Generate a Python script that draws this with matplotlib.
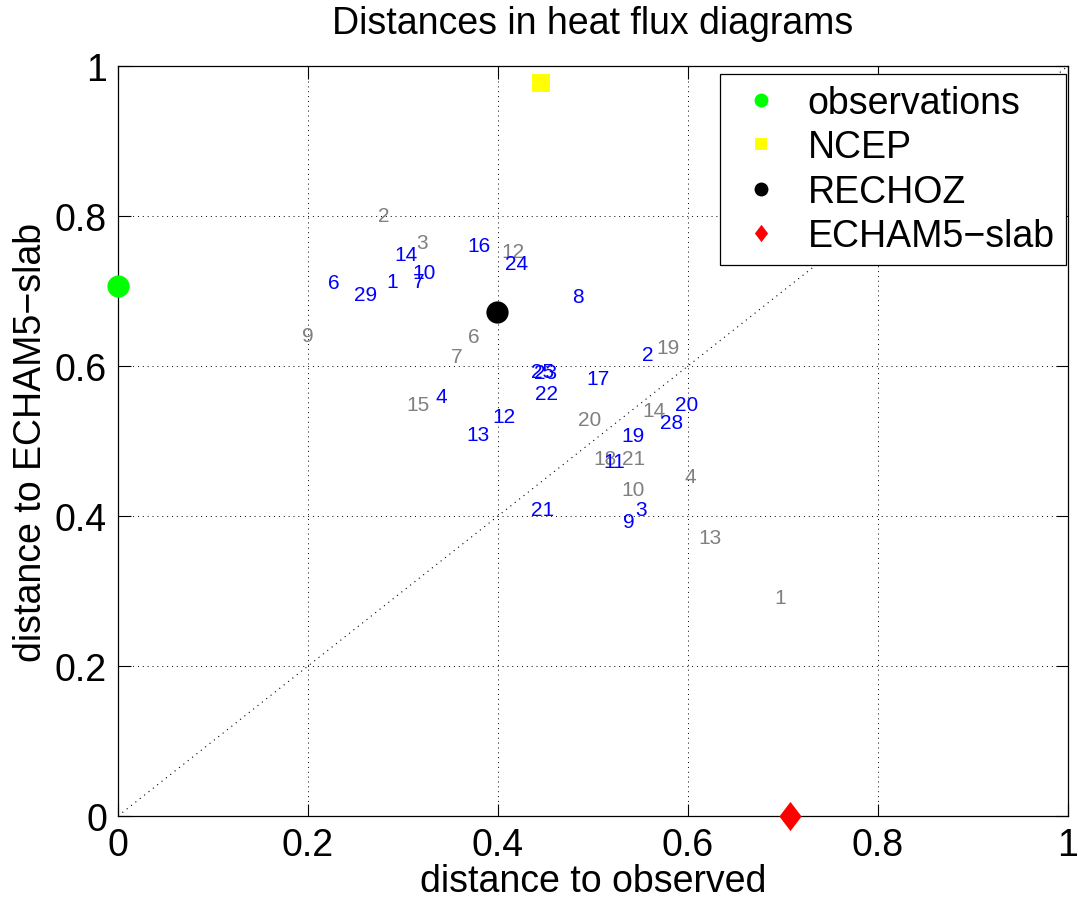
import matplotlib
matplotlib.use("Agg")
import matplotlib.pyplot as plt
from matplotlib.lines import Line2D
from matplotlib.path import Path

plt.rcParams['font.family'] = ['Liberation Sans', 'DejaVu Sans']

# Gray labelled points (label, x, y)
gray_labels = ["2", "3", "12", "9", "6", "7", "15", "19", "14", "20", "18", "21", "10", "4", "13", "1"]
gray_x = [0.280, 0.320, 0.416, 0.200, 0.375, 0.356, 0.316, 0.579, 0.564, 0.496, 0.513, 0.543, 0.542, 0.602, 0.623, 0.697]
gray_y = [0.801, 0.765, 0.753, 0.641, 0.639, 0.613, 0.548, 0.624, 0.540, 0.528, 0.476, 0.476, 0.435, 0.453, 0.372, 0.292]

# Blue labelled points
blue_labels = ["14", "16", "24", "10", "7", "1", "6", "29", "8", "2", "25", "23", "17", "22", "4",
               "12", "13", "20", "28", "19", "11", "3", "9", "21"]
blue_x = [0.303, 0.380, 0.420, 0.322, 0.317, 0.289, 0.227, 0.261, 0.484, 0.558, 0.447, 0.450, 0.505, 0.451, 0.340,
          0.406, 0.379, 0.599, 0.583, 0.542, 0.522, 0.551, 0.538, 0.447]
blue_y = [0.749, 0.761, 0.737, 0.725, 0.712, 0.712, 0.711, 0.695, 0.693, 0.615, 0.592, 0.591, 0.583, 0.564, 0.559,
          0.532, 0.509, 0.548, 0.525, 0.507, 0.473, 0.409, 0.392, 0.409]

# Reference markers
ref_names = ["observations", "NCEP", "RECHOZ", "ECHAM5\u2212slab"]
ref_x = [0.0, 0.445, 0.399, 0.707]
ref_y = [0.707, 0.977, 0.672, 0.0]
ref_colors = ["#00ff00", "#ffff00", "#000000", "#ff0000"]

diamond = Path([(0, 1), (0.76, 0), (0, -1), (-0.76, 0), (0, 1)],
               [Path.MOVETO, Path.LINETO, Path.LINETO, Path.LINETO, Path.CLOSEPOLY])
ref_markers = ["o", "s", "o", diamond]
ref_sizes = [16, 12.5, 16, 21]
leg_sizes = [10, 8, 10, 12.5]

fig = plt.figure(figsize=(10.78, 9.04), dpi=100)
ax = fig.add_axes([118/1078, 1-817/904, 950/1078, 750/904])

ax.plot([0, 1], [0, 1], linestyle=(0, (1, 4)), color='black', linewidth=0.8, zorder=1)

for lab, x, y in zip(gray_labels, gray_x, gray_y):
    ax.text(x, y, lab, color='#808080', fontsize=15, ha='center', va='center', zorder=3)
for lab, x, y in zip(blue_labels, blue_x, blue_y):
    ax.text(x, y, lab, color='#0000ff', fontsize=15, ha='center', va='center', zorder=3)

handles = []
for name, x, y, m, c, s, hs in zip(ref_names, ref_x, ref_y, ref_markers, ref_colors, ref_sizes, leg_sizes):
    ax.plot([x], [y], marker=m, color=c, markersize=s, markeredgewidth=0, linestyle='none',
            clip_on=False, zorder=5)
    handles.append(Line2D([], [], marker=m, color=c, markersize=hs, markeredgewidth=0,
                          linestyle='none', label=name))

ax.set_xlim(0, 1)
ax.set_ylim(0, 1)
ticks = [0, 0.2, 0.4, 0.6, 0.8, 1]
ticklabels = ["0", "0.2", "0.4", "0.6", "0.8", "1"]
ax.set_xticks(ticks)
ax.set_xticklabels(ticklabels)
ax.set_yticks(ticks)
ax.set_yticklabels(ticklabels)
ax.tick_params(direction='in', length=9, width=0.8, labelsize=27, top=True, right=True, pad=8)
ax.grid(True, linestyle=(0, (1, 4)), color='black', linewidth=0.7)
for sp in ax.spines.values():
    sp.set_linewidth(0.9)

ax.set_xlabel("distance to observed", fontsize=27, labelpad=0)
ax.set_ylabel("distance to ECHAM5\u2212slab", fontsize=27, labelpad=4)
ax.set_title("Distances in heat flux diagrams", fontsize=27, pad=24)

leg = ax.legend(handles=handles, loc='upper right', fontsize=27, frameon=True, fancybox=False,
                edgecolor='black', framealpha=1, borderaxespad=0.0, handlelength=1.6,
                handletextpad=0.45, borderpad=0.3, labelspacing=0.22,
                bbox_to_anchor=(1066/1078, 1-75/904), bbox_transform=fig.transFigure)
leg.get_frame().set_linewidth(0.9)

fig.savefig("out.png", dpi=100)
